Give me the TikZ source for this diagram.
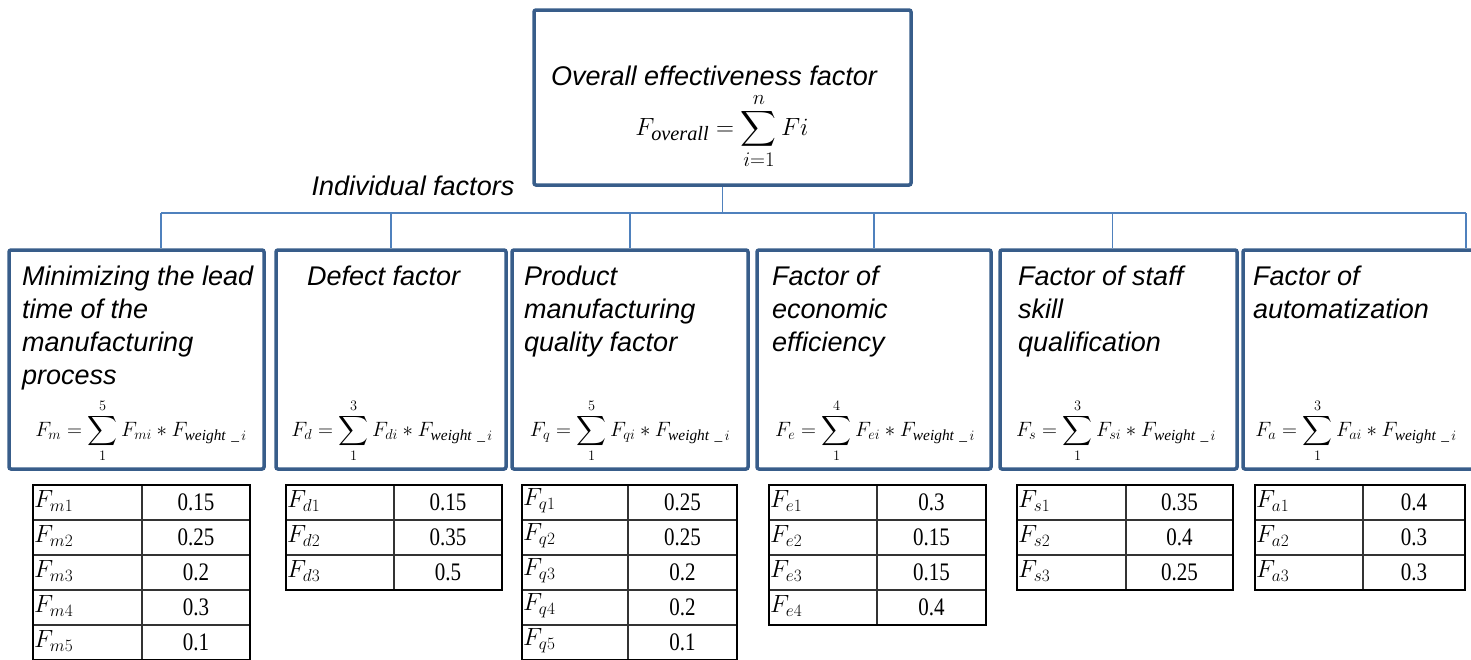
\documentclass[tikz,border=0pt]{standalone}
\usepackage{amsmath}
\usepackage{fontspec}
\setmainfont{Liberation Serif}
\setsansfont{Liberation Sans}
\usepackage{graphicx}
\usepackage{tikz}
\usetikzlibrary{positioning}
\definecolor{boxline}{RGB}{56,93,138}
\definecolor{linkline}{RGB}{79,129,189}
\newcommand{\weighttable}[6]{%
  \foreach \w [count=\k] in {#6}{%
    \draw[cellline] (#1,{450+35*\k}) rectangle (#3,{485+35*\k});
    \node[cellname] at ({#1+1},{501+35*(\k-1)}) {$F_{#4\k}$};
    \node[cellnum] at ({(#2+#3)/2},{502+35*(\k-1)}) {\scalebox{1}[1.2]{\w}};
  }
  \draw[cellline] (#2,485) -- (#2,{485+35*#5});
  \draw[tabframe] (#1,485) rectangle (#3,{485+35*#5});
}

\begin{document}
\begin{tikzpicture}[x=1pt, y=-1pt, factorbox/.style={draw=boxline, line width=3.5pt, rounded corners=2pt, minimum height=219pt, inner sep=0pt}, headtext/.style={anchor=north west, inner sep=0pt, align=left, font=\fontsize{27}{33}\selectfont\sffamily\itshape}, formula/.style={inner sep=0pt, font=\fontsize{22}{26}\selectfont}, link/.style={draw=linkline, line width=1.8pt}, cellline/.style={draw=black!80, line width=1.2pt}, tabframe/.style={draw=black, line width=2.2pt}, cellname/.style={anchor=west, inner sep=0pt, font=\fontsize{25}{28}\selectfont}, cellnum/.style={inner sep=0pt, font=\fontsize{21}{24}\selectfont}]
\useasboundingbox (0,0) rectangle (1471,659);
\node[factorbox, minimum width=377pt, minimum height=175pt] (overall) at (722.5,97.5) {};
\node[inner sep=0pt, font=\fontsize{27}{33}\selectfont\sffamily\itshape] (otitle) at (714,76) {Overall effectiveness factor};
\node[formula, font=\fontsize{29}{34}\selectfont] (osum) at (722,131) {$\displaystyle F_{\mathit{overall}} = \sum_{i=1}^{n} Fi$};
\node[inner sep=0pt, font=\fontsize{27}{33}\selectfont\sffamily\itshape] (indiv) at (413,186) {Individual factors};
\node[factorbox, minimum width=255pt] (f1) at (136.5,359.5) {};
\node[factorbox, minimum width=230pt] (f2) at (391,359.5) {};
\node[factorbox, minimum width=236pt] (f3) at (630,359.5) {};
\node[factorbox, minimum width=234pt] (f4) at (874,359.5) {};
\node[factorbox, minimum width=237pt] (f5) at (1118.5,359.5) {};
\node[factorbox, minimum width=237pt] (f6) at (1361.5,359.5) {};
\node[headtext] (h1) at (22,266) {Minimizing the lead\\time of the\\manufacturing\\process};
\node[headtext] (h2) at (307,266) {Defect factor};
\node[headtext] (h3) at (524,266) {Product\\manufacturing\\quality factor};
\node[headtext] (h4) at (772,266) {Factor of\\economic\\efficiency};
\node[headtext] (h5) at (1018,266) {Factor of staff\\skill\\qualification};
\node[headtext] (h6) at (1253,266) {Factor of\\automatization};
\node[formula] (s1) at (141,431) {$\displaystyle F_m = \sum_{1}^{5} F_{mi} * F_{\mathit{weight}\ \_\,i}$};
\node[formula] (s2) at (392,431) {$\displaystyle F_d = \sum_{1}^{3} F_{di} * F_{\mathit{weight}\ \_\,i}$};
\node[formula] (s3) at (630,431) {$\displaystyle F_q = \sum_{1}^{5} F_{qi} * F_{\mathit{weight}\ \_\,i}$};
\node[formula] (s4) at (875,431) {$\displaystyle F_e = \sum_{1}^{4} F_{ei} * F_{\mathit{weight}\ \_\,i}$};
\node[formula] (s5) at (1116,431) {$\displaystyle F_s = \sum_{1}^{3} F_{si} * F_{\mathit{weight}\ \_\,i}$};
\node[formula] (s6) at (1356,431) {$\displaystyle F_a = \sum_{1}^{3} F_{ai} * F_{\mathit{weight}\ \_\,i}$};
\coordinate (barL) at (161,213);
\coordinate (barR) at (1466,213);
\draw[link] (overall.south) -- (overall.south |- barL);
\draw[link] (barL) -- (barR);
\draw[link] (barL) -- (barL |- f1.north);
\draw[link] (f2.north |- barL) -- (f2.north);
\draw[link] (f3.north |- barL) -- (f3.north);
\draw[link] (f4.north |- barL) -- (f4.north);
\draw[link] ([xshift=-6pt]f5.north |- barL) -- ([xshift=-6pt]f5.north);
\draw[link] (barR) -- (barR |- f6.north);
\weighttable{33}{142}{250}{m}{5}{0.15,0.25,0.2,0.3,0.1}
\weighttable{286}{394}{502}{d}{3}{0.15,0.35,0.5}
\weighttable{522}{628}{737}{q}{5}{0.25,0.25,0.2,0.2,0.1}
\weighttable{769}{877}{986}{e}{4}{0.3,0.15,0.15,0.4}
\weighttable{1017}{1126}{1233}{s}{3}{0.35,0.4,0.25}
\weighttable{1255}{1363}{1465}{a}{3}{0.4,0.3,0.3}
\end{tikzpicture}
\end{document}
